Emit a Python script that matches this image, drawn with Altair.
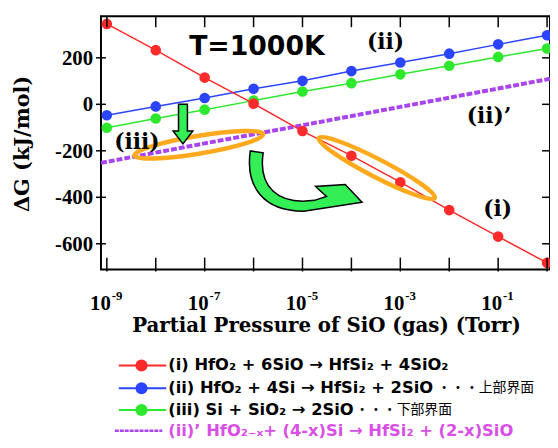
import altair as alt
import pandas as pd

# ---------------- data ----------------
pressure = [1e-9, 1e-8, 1e-7, 1e-6, 1e-5, 1e-4, 1e-3, 1e-2, 1e-1, 1e0]
dg_i = [346, 233, 115, 3, -115, -221, -335, -455, -569, -682]
dg_ii = [-47, -9, 27, 67, 101, 143, 180, 218, 258, 297]
dg_iii = [-101, -61, -23, 16, 55, 91, 129, 166, 204, 240]
pressure_iip = [7.6e-10, 1e-7, 1e-5, 1e-3, 1e-1, 1.15]
dg_iip = [-252, -168, -90, -11, 68, 110]

y_tick_values = [200, 0, -200, -400, -600]
y_tick_labels = ["200", "0", "-200", "-400", "-600"]
x_tick_values = pressure
x_label_values = [1e-9, 1e-7, 1e-5, 1e-3, 1e-1]
x_label_base = ["10", "10", "10", "10", "10"]
x_label_exps = ["-9", "-7", "-5", "-3", "-1"]

x_title = "Partial Pressure of SiO (gas) (Torr)"
y_title = "ΔG (kJ/mol)"

# annotation anchors (data coordinates)
label_texts = ["(ii)", "(ii)’", "(iii)", "(i)"]
label_p = [5.0e-4, 0.065, 4.1e-9, 0.098]
label_v = [268, -51, -162, -451]
temp_text = "T=1000K"
temp_p = 1.17e-6
temp_v = 247

ellipse_p = [7.6e-8, 3.3e-4]
ellipse_v = [-174, -274]
ellipse_angle = [350.6, 27.3]

down_arrow_p = 3.6e-8
down_arrow_v = -85
curved_arrow_p = 7.64e-6
curved_arrow_v = -328

legend_labels = [
    "(i)  HfO₂ + 6SiO → HfSi₂ + 4SiO₂",
    "(ii) HfO₂ + 4Si → HfSi₂ + 2SiO",
    "(iii) Si + SiO₂ → 2SiO",
    "(ii)’ HfO₂₋ₓ+ (4-x)Si → HfSi₂ + (2-x)SiO",
]
legend_suffix = ["", "・・・上部界面", "・・・下部界面", ""]

RED = "#ff2a2a"
BLUE = "#2b45ff"
GREEN = "#2ee82e"
PURPLE = "#a844f0"
MAGENTA = "#d94fe6"
ORANGE = "#ffaa1e"
ARROW_GREEN = "#33ee55"
line_colors = [RED, BLUE, GREEN, PURPLE]
text_colors = ["black", "black", "black", MAGENTA]

# ---------------- scales ----------------
xscale = alt.Scale(type="log", domain=[10 ** -9.12, 10 ** 0.06], nice=False)
yscale = alt.Scale(domain=[-710.6, 378.7], nice=False, zero=False)
X = lambda f: alt.X(f, type="quantitative", scale=xscale, axis=None)
Y = lambda f: alt.Y(f, type="quantitative", scale=yscale, axis=None)

layers = []

# purple dashed line
df_p = pd.DataFrame({"p": pressure_iip, "v": dg_iip})
layers.append(alt.Chart(df_p).mark_line(color=PURPLE, strokeWidth=4, strokeDash=[6, 2]).encode(x=X("p"), y=Y("v")))

def series(vals, color):
    df = pd.DataFrame({"p": pressure, "v": vals})
    return alt.Chart(df).mark_line(
        color=color, strokeWidth=1.5,
        point=alt.OverlayMarkDef(filled=True, size=115, color=color, opacity=1),
    ).encode(x=X("p"), y=Y("v"))

layers.append(series(dg_iii, GREEN))
layers.append(series(dg_ii, BLUE))
layers.append(series(dg_i, RED))

# ellipses
ELLIPSE = "M -66 0 A 66 9 0 1 0 66 0 A 66 9 0 1 0 -66 0 Z"
for p, v, a in zip(ellipse_p, ellipse_v, ellipse_angle):
    layers.append(
        alt.Chart(pd.DataFrame({"p": [p], "v": [v]})).mark_point(
            shape=ELLIPSE, filled=False, stroke=ORANGE, strokeWidth=4.5, opacity=1, size=4, angle=a
        ).encode(x=X("p"), y=Y("v"))
    )

# arrows
DOWN = "M -4.5 -20 L 4.5 -20 L 4.5 7 L 10 7 L 0 20 L -10 7 L -4.5 7 Z"
CURVE = ("M -47 -30 C -52 5 -35 31 7 31 L 66 22 L 49 4 L 19 6 L 30 16 L 18 20 "
         "C -20 25 -39 6 -34 -28 Z")
for shape, p, v in [(DOWN, down_arrow_p, down_arrow_v), (CURVE, curved_arrow_p, curved_arrow_v)]:
    layers.append(
        alt.Chart(pd.DataFrame({"p": [p], "v": [v]})).mark_point(
            shape=shape, filled=True, fill=ARROW_GREEN, stroke="black", strokeWidth=1.5, opacity=1, size=4
        ).encode(x=X("p"), y=Y("v"))
    )

# inward/outward ticks
df_xt = pd.DataFrame({"p": x_tick_values})
layers.append(alt.Chart(df_xt).mark_rule(color="black", strokeWidth=1.5).encode(x=X("p"), y=alt.value(0), y2=alt.value(11)))
layers.append(alt.Chart(df_xt).mark_rule(color="black", strokeWidth=1.5).encode(x=X("p"), y=alt.value(244), y2=alt.value(258)))
df_yt = pd.DataFrame({"v": y_tick_values, "lab": y_tick_labels})
layers.append(alt.Chart(df_yt).mark_rule(color="black", strokeWidth=1.5).encode(y=Y("v"), x=alt.value(-5), x2=alt.value(5)))
layers.append(alt.Chart(df_yt).mark_rule(color="black", strokeWidth=1.5).encode(y=Y("v"), x=alt.value(446), x2=alt.value(454)))

# y tick labels
layers.append(alt.Chart(df_yt).mark_text(
    align="right", baseline="middle", font="Liberation Serif", fontWeight="bold", fontSize=21, color="black", dy=1
).encode(y=Y("v"), x=alt.value(-8), text="lab:N"))

# x tick labels
df_xl = pd.DataFrame({"p": x_label_values, "b": x_label_base, "e": x_label_exps})
layers.append(alt.Chart(df_xl).mark_text(
    align="right", baseline="alphabetic", font="Liberation Serif", fontWeight="bold", fontSize=21, color="black", dx=4
).encode(x=X("p"), y=alt.value(297), text="b:N"))
layers.append(alt.Chart(df_xl).mark_text(
    align="left", baseline="alphabetic", font="Liberation Serif", fontWeight="bold", fontSize=13, color="black", dx=5
).encode(x=X("p"), y=alt.value(287), text="e:N"))

# axis titles
layers.append(alt.Chart(pd.DataFrame({"t": [x_title]})).mark_text(
    align="center", baseline="alphabetic", font="DejaVu Serif", fontWeight="bold", fontSize=20, color="black"
).encode(x=alt.value(228), y=alt.value(319), text="t:N"))
layers.append(alt.Chart(pd.DataFrame({"t": [y_title]})).mark_text(
    align="center", baseline="middle", font="DejaVu Serif", fontWeight="bold", fontSize=21, color="black", angle=270
).encode(x=alt.value(-79), y=alt.value(129), text="t:N"))

# in-plot labels
df_lab = pd.DataFrame({"p": label_p, "v": label_v, "t": label_texts})
layers.append(alt.Chart(df_lab).mark_text(
    align="center", baseline="middle", font="DejaVu Serif", fontWeight="bold", fontSize=22, color="black"
).encode(x=X("p"), y=Y("v"), text="t:N"))
layers.append(alt.Chart(pd.DataFrame({"p": [temp_p], "v": [temp_v], "t": [temp_text]})).mark_text(
    align="center", baseline="middle", font="DejaVu Sans", fontWeight="bold", fontSize=27, color="black"
).encode(x=X("p"), y=Y("v"), text="t:N"))

# custom legend below the plot
legend_y = [353, 376, 398, 419]
suffix_x = [0, 340, 257, 0]
for i, lab in enumerate(legend_labels):
    d = pd.DataFrame({"t": [lab], "s": [legend_suffix[i]]})
    yv = legend_y[i]
    if i < 3:
        layers.append(alt.Chart(d).mark_rule(color=line_colors[i], strokeWidth=2).encode(
            x=alt.value(18), x2=alt.value(66), y=alt.value(yv)))
        layers.append(alt.Chart(d).mark_point(filled=True, size=150, color=line_colors[i], opacity=1).encode(
            x=alt.value(41), y=alt.value(yv)))
    else:
        layers.append(alt.Chart(d).mark_rule(color=PURPLE, strokeWidth=2.5, strokeDash=[4, 1]).encode(
            x=alt.value(14), x2=alt.value(62), y=alt.value(yv)))
    layers.append(alt.Chart(d).mark_text(
        align="left", baseline="middle", font="DejaVu Sans", fontWeight="bold", fontSize=16.5, color=text_colors[i]
    ).encode(x=alt.value(68), y=alt.value(yv), text="t:N"))
    if legend_suffix[i]:
        layers.append(alt.Chart(d).mark_text(
            align="left", baseline="middle", font="Noto Sans CJK JP", fontSize=14, color="black"
        ).encode(x=alt.value(suffix_x[i]), y=alt.value(yv), text="s:N"))

chart = alt.layer(*layers).properties(
    width=454,
    height=256,
    padding={"left": 94, "top": 6, "right": 0, "bottom": 170},
    autosize=alt.AutoSizeParams(type="none"),
).configure_view(stroke="black", strokeWidth=2)

chart.save("out.html", embed_options={"renderer": "svg", "actions": False})
